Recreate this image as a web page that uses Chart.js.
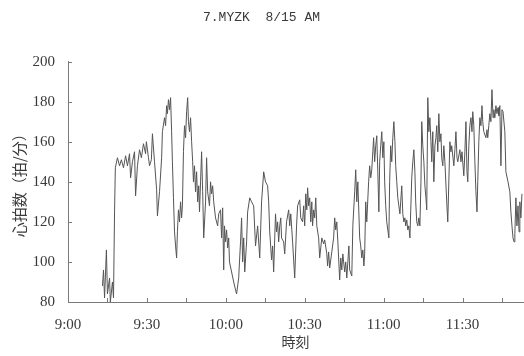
<!DOCTYPE html>
<html>
<head>
<meta charset="utf-8">
<script src="https://cdn.jsdelivr.net/npm/chart.js@4.4.1/dist/chart.umd.min.js"></script>
<style>
  html, body { margin: 0; padding: 0; background: #fff; }
  #wrap { width: 524px; height: 356px; }
</style>
</head>
<body>
<div id="wrap"><canvas id="hrChart"></canvas></div>
<script>
// heart rate record, minutes after 9:00 and beats per minute
const minutes = [
  13.1, 13.5, 13.9, 14.6, 15.0, 15.8, 16.1, 16.9, 17.3, 17.7, 18.0, 18.8, 19.6, 20.3, 21.1, 21.9,
  22.6, 23.4, 23.8, 24.5, 25.3, 25.7, 26.4, 27.2, 27.9, 28.7, 29.5, 29.8, 30.6, 31.0, 31.7, 32.1,
  32.9, 33.7, 34.0, 34.8, 35.6, 35.9, 36.7, 37.1, 37.5, 37.8, 38.2, 38.6, 39.0, 39.4, 39.7, 40.1,
  40.5, 40.9, 41.3, 41.6, 42.0, 42.4, 42.8, 43.2, 43.5, 43.9, 44.3, 44.7, 45.1, 45.5, 45.8, 46.2,
  46.6, 47.0, 47.4, 47.7, 48.1, 48.5, 48.9, 49.3, 49.7, 50.0, 50.4, 50.8, 51.2, 51.6, 52.3, 52.7,
  53.1, 53.8, 54.2, 54.6, 55.0, 55.4, 56.1, 56.9, 57.3, 58.0, 58.4, 58.8, 59.2, 59.5, 59.9, 60.3,
  60.7, 61.1, 61.4, 62.2, 63.0, 63.7, 64.1, 64.5, 64.9, 65.2, 65.6, 66.0, 66.4, 66.8, 67.2, 67.9,
  68.3, 69.1, 69.8, 70.6, 71.3, 72.1, 72.9, 73.6, 74.4, 75.1, 75.9, 76.3, 76.7, 77.4, 77.8, 78.2,
  78.6, 78.9, 79.3, 79.7, 80.1, 80.5, 80.9, 81.2, 82.0, 82.4, 83.1, 83.9, 84.3, 84.7, 85.4, 86.2,
  86.9, 87.3, 88.1, 88.5, 89.2, 89.6, 90.0, 90.4, 90.8, 91.1, 91.5, 91.9, 92.3, 92.7, 93.0, 93.4,
  93.8, 94.2, 94.6, 95.3, 95.7, 96.5, 97.2, 97.6, 98.4, 98.7, 99.1, 99.5, 100.3, 101.0, 101.4, 101.8,
  102.2, 102.6, 103.3, 103.7, 104.1, 104.5, 105.2, 105.6, 106.0, 106.8, 107.1, 107.9, 108.3, 109.0, 109.4, 109.8,
  110.2, 110.9, 111.3, 111.7, 112.1, 112.5, 112.8, 113.2, 113.6, 114.3, 114.7, 115.1, 115.5, 115.9, 116.2, 116.6,
  117.0, 117.4, 117.8, 118.2, 118.5, 118.9, 119.3, 119.7, 120.1, 120.4, 120.8, 121.2, 122.0, 122.3, 122.7, 123.1,
  123.5, 123.9, 124.3, 124.6, 125.0, 125.4, 125.8, 126.2, 126.5, 126.9, 127.3, 127.7, 128.1, 128.4, 128.8, 129.2,
  129.6, 130.0, 130.3, 130.7, 131.1, 131.5, 131.9, 132.2, 132.6, 133.0, 133.4, 133.8, 134.2, 134.5, 134.9, 135.3,
  135.7, 136.1, 136.4, 136.8, 137.2, 137.6, 138.0, 138.3, 138.7, 139.1, 139.5, 139.9, 140.2, 140.6, 141.0, 141.4,
  141.8, 142.1, 142.5, 142.9, 143.3, 144.0, 144.4, 145.2, 145.6, 145.9, 146.7, 147.1, 147.5, 147.9, 148.2, 149.0,
  149.4, 149.8, 150.5, 150.9, 151.3, 151.7, 152.0, 152.4, 152.8, 153.2, 153.6, 153.9, 154.3, 154.7, 155.1, 155.5,
  155.8, 156.2, 156.6, 157.0, 157.4, 157.7, 158.1, 158.9, 159.3, 159.6, 160.0, 160.4, 160.8, 161.2, 161.6, 161.9,
  162.3, 162.7, 163.1, 163.5, 163.8, 164.2, 164.6, 165.0, 165.4, 166.1, 166.5, 167.3, 168.0, 168.4, 168.8, 169.2,
  169.6, 169.9, 170.3, 170.7, 171.1, 171.5, 171.8, 172.2, 172.6
];
const bpm = [
  88, 96, 82, 106, 84, 92, 80, 90, 82, 125, 147, 152, 148, 151, 147, 153,
  148, 154, 142, 150, 155, 133, 148, 156, 152, 159, 154, 160, 152, 148, 151, 164,
  150, 136, 123, 135, 152, 165, 172, 168, 178, 174, 181, 176, 182, 165, 150, 132,
  115, 108, 102, 115, 126, 120, 130, 122, 128, 155, 168, 162, 175, 182, 170, 165,
  172, 160, 150, 140, 148, 135, 145, 130, 138, 125, 140, 155, 135, 112, 130, 152,
  135, 128, 140, 134, 138, 130, 122, 118, 124, 126, 112, 127, 96, 118, 110, 116,
  107, 112, 100, 95, 90, 86, 84, 88, 92, 100, 110, 122, 100, 112, 95, 110,
  125, 132, 130, 128, 108, 118, 102, 130, 145, 140, 138, 130, 115, 101, 108, 95,
  112, 124, 115, 120, 110, 118, 122, 112, 110, 104, 120, 126, 118, 124, 110, 92,
  118, 128, 131, 122, 120, 128, 118, 134, 126, 137, 128, 132, 120, 130, 118, 126,
  122, 132, 118, 112, 102, 112, 109, 111, 104, 98, 105, 97, 105, 112, 122, 116,
  120, 110, 91, 102, 96, 104, 95, 100, 92, 108, 96, 93, 118, 135, 146, 130,
  140, 112, 108, 102, 106, 98, 104, 130, 120, 140, 148, 142, 146, 155, 162, 150,
  158, 163, 145, 125, 150, 158, 165, 152, 160, 140, 128, 120, 112, 140, 158, 150,
  162, 170, 160, 148, 140, 132, 128, 124, 130, 138, 124, 120, 122, 118, 121, 116,
  118, 112, 125, 142, 150, 156, 145, 130, 120, 118, 122, 118, 140, 170, 158, 150,
  138, 132, 126, 182, 165, 172, 160, 150, 165, 140, 158, 162, 168, 155, 174, 160,
  164, 152, 148, 158, 150, 130, 120, 160, 155, 158, 148, 156, 165, 152, 150, 156,
  150, 155, 143, 155, 170, 145, 140, 158, 168, 172, 165, 175, 168, 150, 135, 125,
  140, 160, 172, 168, 178, 170, 165, 162, 166, 162, 168, 174, 170, 186, 172, 176,
  172, 178, 174, 177, 173, 178, 148, 176, 175, 165, 145, 140, 135, 125, 118, 112,
  110, 114, 132, 118, 128, 115, 130, 122, 134
];

// axis labels
const timeTicks = [0, 30, 60, 90, 120, 150];
const timeLabels = ['9:00', '9:30', '10:00', '10:30', '11:00', '11:30'];
const bpmTicks = [80, 100, 120, 140, 160, 180, 200];

const ink = '#3a3a3a';
const axisGray = '#7a7a7a';

// short tick marks pointing into the plot, every 15 min and every 20 bpm
const innerTicks = {
    id: 'innerTicks',
    afterDraw(chart) {
        const { ctx, chartArea, scales } = chart;
        ctx.save();
        ctx.strokeStyle = axisGray;
        ctx.lineWidth = 1;
        ctx.beginPath();
        for (let m = 0; m <= 165; m += 15) {
            const px = Math.round(scales.x.getPixelForValue(m)) + 0.5;
            ctx.moveTo(px, chartArea.bottom);
            ctx.lineTo(px, chartArea.bottom - 4);
        }
        bpmTicks.forEach(function(v) {
            const py = Math.round(scales.y.getPixelForValue(v)) + 0.5;
            ctx.moveTo(chartArea.left, py);
            ctx.lineTo(chartArea.left + 4, py);
        });
        ctx.stroke();
        ctx.restore();
    }
};

const ctx = document.getElementById('hrChart').getContext('2d');

new Chart(ctx, {
    type: 'line',
    data: {
        datasets: [{
            data: minutes.map((m, i) => ({ x: m, y: bpm[i] })),
            borderColor: '#555555',
            borderWidth: 1,
            pointRadius: 0,
            tension: 0,
            fill: false
        }]
    },
    options: {
        responsive: true,
        maintainAspectRatio: false,
        animation: false,
        layout: {
            padding: { left: 0, right: 1, top: 0, bottom: 0 }
        },
        plugins: {
            legend: { display: false },
            tooltip: { enabled: false },
            title: {
                display: true,
                text: '7.MYZK  8/15 AM',
                color: ink,
                font: { family: 'Liberation Mono', size: 13, weight: 'normal' },
                padding: { top: 10, bottom: 36 }
            }
        },
        scales: {
            x: {
                type: 'linear',
                min: 0,
                max: 173,
                afterFit: function(scale) {
                    scale.height = 54;
                    scale.paddingLeft = 0;
                    scale.paddingRight = 0;
                },
                grid: { display: false },
                border: { display: true, color: axisGray, dash: [2, 1] },
                ticks: {
                    stepSize: 15,
                    autoSkip: false,
                    maxRotation: 0,
                    padding: 6,
                    color: ink,
                    font: { family: 'Liberation Serif', size: 15 },
                    callback: function(value) {
                        const i = timeTicks.indexOf(value);
                        return i >= 0 ? timeLabels[i] : '';
                    }
                },
                title: {
                    display: true,
                    text: '時刻',
                    color: ink,
                    font: { family: 'Noto Sans CJK JP', size: 14 },
                    padding: { top: 0, bottom: 6 }
                }
            },
            y: {
                min: 80,
                max: 200,
                afterFit: function(scale) { scale.width = 68; },
                grid: { display: false },
                border: { display: true, color: axisGray, dash: [2, 1] },
                ticks: {
                    stepSize: 20,
                    padding: 5,
                    color: ink,
                    font: { family: 'Liberation Serif', size: 15 }
                },
                title: {
                    display: true,
                    text: '心拍数（拍/分）',
                    color: ink,
                    font: { family: 'Noto Sans CJK JP', size: 15 },
                    padding: { top: 10, bottom: 0 }
                }
            }
        }
    },
    plugins: [innerTicks]
});
</script>
</body>
</html>
